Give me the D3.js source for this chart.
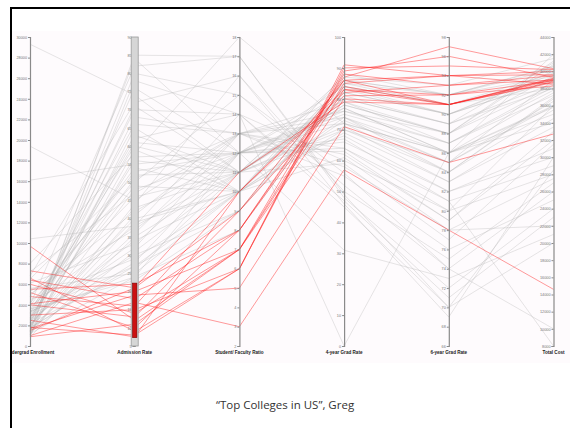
<!DOCTYPE html>
<html>
<head>
<meta charset="utf-8">
<script src="https://cdnjs.cloudflare.com/ajax/libs/d3/7.8.5/d3.min.js"></script>
<style>
  body { margin: 0; background: #fff; }
  svg { display: block; }
  .tick text { font-family: "Liberation Sans", Arial, sans-serif; font-size: 3.8px; fill: #777; }
  .dim-label { font-family: "Liberation Sans", Arial, sans-serif; font-size: 4.6px; font-weight: bold; fill: #222; }
</style>
</head>
<body>
<svg id="chart" width="570" height="428"></svg>
<script>
// dimension names, ticks and brush
const dimensions = ["Undergrad Enrollment", "Admission Rate", "Student/ Faculty Ratio", "4-year Grad Rate", "6-year Grad Rate", "Total Cost"];
const domains = [[0, 30000], [5, 90], [2, 18], [0, 100], [66, 98], [8000, 44000]];
const tickSteps = [2000, 5, 1, 10, 2, 2000];
const brushRange = [7.3, 22.3]; // admission rate selection

// one value per college in each list
const enrollment = [9700, 7300, 6600, 6400, 6000, 5200, 4800, 4100, 4000, 1800, 1700, 1000, 900, 1500, 3000, 2500, 5500,
  29300, 19400, 16100, 10400, 1200, 1500, 2000, 2300, 1800, 1000, 2600, 3100, 1400, 3500, 2800, 1900, 4200, 1100, 5000, 2100,
  3800, 1600, 2400, 6100, 1300, 2900, 4500, 1700, 3300, 2200, 5600, 1200, 3600, 2700, 8000, 1500, 900, 4800, 3200, 6800,
  2500, 1100, 3900, 7200, 2000, 1300, 5300, 2600, 1800, 3400, 900, 4000, 6500, 1400, 2300, 1700, 3000];
const admission = [12, 21, 9, 18, 14, 10, 16, 20, 13, 8, 19, 17, 11, 21, 15, 7.5, 22,
  74, 45, 55, 38, 85, 80, 76, 71, 68, 65, 62, 60, 57, 54, 51, 48, 46, 44, 42, 40,
  38, 36, 34, 33, 31, 30, 29, 28, 27, 26, 25, 24, 23, 70, 58, 84, 35, 50, 66, 72,
  63, 59, 53, 47, 43, 39, 37, 32, 27, 24, 78, 82, 52, 41, 61, 56, 49];
const ratio = [7, 9, 6, 8, 7, 8, 10, 7, 9, 6, 5, 3, 7, 11, 6, 10, 8,
  11, 13, 12, 14, 17, 15, 12, 11, 13, 10, 14, 11, 12, 10, 13, 12, 11, 16, 12, 10,
  11, 13, 10, 12, 11, 9, 10, 12, 9, 11, 10, 8, 9, 14, 18, 12, 11, 15, 13, 16,
  11, 10, 12, 13, 11, 10, 12, 13, 10, 12, 14, 17, 11, 13, 12, 11, 10];
const grad4 = [88, 86, 90, 84, 83, 87, 82, 80, 81, 91, 71, 57, 85, 79, 89, 83, 86,
  86, 72, 66, 60, 48, 52, 64, 78, 58, 70, 45, 80, 74, 84, 62, 76, 68, 50, 82, 73,
  79, 55, 85, 77, 81, 83, 69, 75, 86, 78, 80, 84, 82, 0, 72, 31, 87, 56, 64, 46,
  71, 88, 67, 74, 77, 61, 84, 79, 74, 72, 47, 49, 70, 76, 63, 59, 85];
const grad6 = [93, 94, 95, 91, 91, 97, 93, 91, 92, 94, 85, 78, 94, 91, 96, 92, 91,
  92, 86, 82, 80, 72, 74, 80, 88, 78, 84, 70, 89, 86, 91, 79, 87, 82, 75, 90, 85,
  88, 76, 91, 86, 89, 90, 83, 87, 92, 88, 89, 90, 90, 86, 84, 73, 93, 74, 81, 69,
  83, 92, 81, 85, 86, 78, 91, 87, 84, 86, 71, 70, 85, 88, 79, 77, 92];
const cost = [39000, 38500, 40200, 38800, 39200, 40300, 39500, 39000, 38300, 39600, 32700, 14600, 40000, 38700, 39300, 38900, 39100,
  40500, 34000, 30000, 28000, 24000, 26000, 36000, 39500, 22000, 37000, 20000, 38000, 35000, 39800, 33000, 38200, 31000, 27000, 39000, 36500,
  40800, 25000, 39200, 37500, 38600, 40000, 34500, 37800, 39400, 38400, 41000, 39700, 38900, 36000, 35500, 21000, 41500, 10000, 8000, 30000,
  33500, 40200, 29000, 36000, 42000, 27500, 38000, 37200, 36800, 35800, 23000, 28500, 39000, 41200, 32000, 31500, 40600];

const columns = [enrollment, admission, ratio, grad4, grad6, cost];
const rows = enrollment.map((d, i) => columns.map(col => col[i]));

const svg = d3.select("#chart");

// slide frame and chart panel
svg.append("rect").attr("x", 12).attr("y", 31).attr("width", 558).attr("height", 332).attr("fill", "#fefbfd");
svg.append("path").attr("d", "M11,428V8H570").attr("fill", "none").attr("stroke", "#000").attr("stroke-width", 2);

const x = d3.scalePoint().domain(d3.range(dimensions.length)).range([30, 553.5]);
const y = domains.map(dom => d3.scaleLinear().domain(dom).range([346, 37]));

const selected = r => r[1] >= brushRange[0] && r[1] <= brushRange[1];
const line = d3.line();
const rowPath = r => line(r.map((v, k) => [x(k), y[k](v)]));

const plot = svg.append("g");

plot.append("g").selectAll("path")
  .data(rows.filter(r => !selected(r)))
  .join("path")
  .attr("d", rowPath)
  .attr("fill", "none")
  .attr("stroke", "#b4b4b4")
  .attr("stroke-opacity", 0.42)
  .attr("stroke-width", 0.8);

plot.append("g").selectAll("path")
  .data(rows.filter(selected))
  .join("path")
  .attr("d", rowPath)
  .attr("fill", "none")
  .attr("stroke", "#ff1a1a")
  .attr("stroke-opacity", 0.55)
  .attr("stroke-width", 0.8);

// axes
dimensions.forEach((name, k) => {
  const g = plot.append("g").attr("transform", `translate(${x(k)},0)`);
  const ticks = d3.range(domains[k][0], domains[k][1] + 0.001, tickSteps[k]);
  const axis = d3.axisLeft(y[k]).tickValues(ticks).tickSize(2).tickPadding(1).tickFormat(d3.format("d"));
  g.call(axis);
  g.select(".domain").attr("stroke", "#8a8a8a").attr("stroke-width", 1.2);
  g.selectAll(".tick line").attr("stroke", "#8a8a8a");

  if (k === 1) {
    g.append("rect")
      .attr("x", -3.5).attr("y", 37).attr("width", 7).attr("height", 309)
      .attr("fill", "#d6d6d6").attr("stroke", "#9a9a9a").attr("stroke-width", 0.8);
    g.append("rect")
      .attr("x", -2.2).attr("y", y[k](brushRange[1]))
      .attr("width", 4.4).attr("height", y[k](brushRange[0]) - y[k](brushRange[1]))
      .attr("fill", "#cc1111").attr("stroke", "#7a0000").attr("stroke-width", 0.6);
  }

  g.append("text")
    .attr("class", "dim-label")
    .attr("y", 354)
    .attr("text-anchor", "middle")
    .text(name);
});

// re-draw the left frame edge over the clipped label
svg.append("rect").attr("x", 0).attr("y", 0).attr("width", 10).attr("height", 428).attr("fill", "#fff");
svg.append("line").attr("x1", 11).attr("x2", 11).attr("y1", 7).attr("y2", 428).attr("stroke", "#000").attr("stroke-width", 2);

svg.append("text")
  .attr("x", 285).attr("y", 409)
  .attr("text-anchor", "middle")
  .attr("font-family", "Open Sans, Liberation Sans, sans-serif")
  .attr("font-size", 11.5)
  .attr("fill", "#333")
  .text("\u201cTop Colleges in US\u201d, Greg");
</script>
</body>
</html>
